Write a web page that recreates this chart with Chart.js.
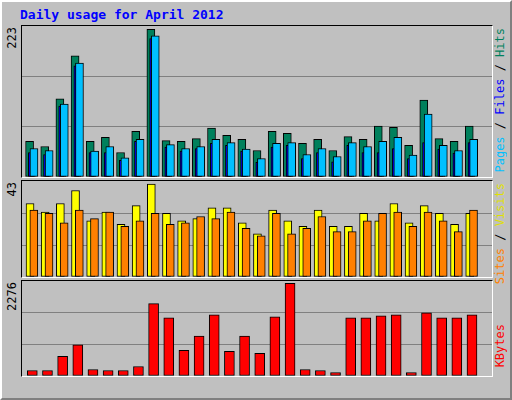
<!DOCTYPE html>
<html><head><meta charset="utf-8">
<script src="https://cdn.jsdelivr.net/npm/chart.js@4"></script>
<style>
body{margin:0;background:#fff;}
#wrap{position:relative;width:508px;height:396px;background:#c0c0c0;border:2px solid #fff;border-right-color:#808080;border-bottom-color:#808080;overflow:hidden;font-family:"DejaVu Sans Mono",monospace;}
.panel{position:absolute;left:19px;width:470px;border:1px solid #000;border-right-color:#fff;border-bottom-color:#fff;}
canvas{display:block;}
.vt{position:absolute;writing-mode:vertical-rl;transform:rotate(180deg);font-size:12px;white-space:nowrap;}
#title{position:absolute;left:18px;top:5px;color:#0000ff;font-weight:bold;font-size:13px;}
</style></head><body>
<div id="wrap">
<div id="title">Daily usage for April 2012</div>
<div class="panel" style="top:23px;height:151px"><canvas id="c1" width="470" height="151"></canvas></div>
<div class="panel" style="top:178px;height:96px"><canvas id="c2" width="470" height="96"></canvas></div>
<div class="panel" style="top:278px;height:95px"><canvas id="c3" width="470" height="95"></canvas></div>
<div style="position:absolute;left:20px;top:376px;width:470px;height:22px"><canvas id="cx" width="470" height="22"></canvas></div>
<div class="vt" style="left:3px;top:25px;color:#000">223</div>
<div class="vt" style="left:3px;top:180px;color:#000">43</div>
<div class="vt" style="left:3px;top:280px;color:#000">2276</div>
<div class="vt" style="left:491px;top:26px"><span style="color:#00c0ff">Pages</span> / <span style="color:#0000ff">Files</span> / <span style="color:#00805c">Hits</span></div>
<div class="vt" style="left:491px;top:181px"><span style="color:#ff8000">Sites</span> / <span style="color:#e0e000">Visits</span></div>
<div class="vt" style="left:491px;top:322px;color:#ff0000">KBytes</div>
</div>
<script>
const days=[1,2,3,4,5,6,7,8,9,10,11,12,13,14,15,16,17,18,19,20,21,22,23,24,25,26,27,28,29,30,31];
const weekend=[1,7,8,14,15,21,22,28,29];
const hits=[54,46,118,183,54,60,37,69,223,55,54,58,74,63,57,40,69,66,51,57,40,61,57,77,75,48,116,58,54,77,0];
const files=[37,34,107,168,37,37,25,54,209,45,39,43,51,48,39,22,45,48,28,37,23,48,37,37,43,28,52,42,36,52,0];
const pages=[43,40,110,172,39,46,29,57,213,49,43,46,57,52,42,28,51,52,34,43,31,52,46,54,60,33,95,48,40,57,0];
const visits=[34,30,34,40,26,30,24.4,33,43,29.5,26,27,32,32,25,20,31,26,23.4,31,23.4,23.4,29.5,26,34,25,33,29.5,24.4,29.5,0];
const sites=[31,29.5,25,31,27,30,23.4,26,29.5,24.4,25,28,27,30,22.5,19,29.5,20,22.5,28,21,21,26,29.5,30,23.4,30,26,21,31,0];
const kbytes=[134,134,483,764,159,134,134,234,1778,1429,632,981,1504,608,981,558,1454,2276,159,134,85,1429,1429,1479,1504,85,1554,1429,1429,1504,0];

function ds(vals,off,color,w,ord){return{data:days.map((d,i)=>({x:d+off,y:vals[i]})),order:ord,backgroundColor:color,borderColor:'#000',borderWidth:1,borderSkipped:false,barThickness:w,grouped:false};}
function mk(id,sets,max,step){
  new Chart(document.getElementById(id),{type:'bar',data:{datasets:sets},
  options:{responsive:false,animation:false,layout:{padding:0},plugins:{legend:{display:false},tooltip:{enabled:false}},
  scales:{x:{type:'linear',min:0.5,max:31.5,offset:false,display:false},
  y:{min:0,max:max,afterFit:a=>{a.width=0;},ticks:{display:false,stepSize:step},border:{display:false},
     grid:{drawTicks:false,color:c=>(c.tick&&c.tick.value>0&&c.tick.value<max-1e-6)?'#808080':'rgba(0,0,0,0)',lineWidth:1}}}}});
}
mk('c1',[ds(hits,0.0,'#00805c',8,3),ds(files,0.15,'#0000ff',7,2),ds(pages,0.29,'#00c0ff',8,1)],228,76);
mk('c2',[ds(visits,0.03,'#ffff00',8,2),ds(sites,0.28,'#ff8000',8,1)],44.4,14.8);
mk('c3',[ds(kbytes,0.18,'#ff0000',10,1)],2333,777.7);
new Chart(document.getElementById('cx'),{type:'bar',data:{labels:days.map(String),datasets:[{data:days.map(()=>0)}]},
 options:{responsive:false,animation:false,layout:{padding:0},plugins:{legend:{display:false},tooltip:{enabled:false}},
 scales:{y:{display:false},x:{type:'category',offset:true,position:'top',grid:{display:false},border:{display:false},
  ticks:{autoSkip:false,maxRotation:0,padding:4,font:{family:'DejaVu Sans Mono',size:12},
   color:c=>(c.tick&&weekend.includes(Number(c.tick.label)))?'#00805c':'#000'}}}}});
</script>
</body></html>
